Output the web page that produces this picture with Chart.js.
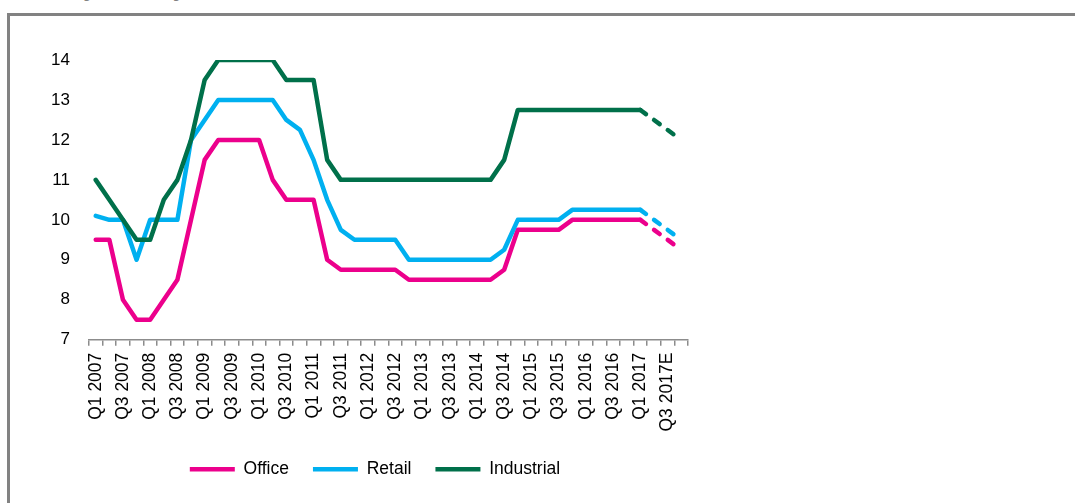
<!DOCTYPE html>
<html>
<head>
<meta charset="utf-8">
<script src="https://cdn.jsdelivr.net/npm/chart.js@4.4.1/dist/chart.umd.min.js"></script>
<style>
  html, body { margin: 0; padding: 0; background: #fff; overflow: hidden; }
  body { width: 1075px; height: 503px; position: relative; }
  #title { position: absolute; left: 10px; top: -26px; font: bold 24px "Liberation Sans", Arial, sans-serif; color: #808080; white-space: nowrap; }
  #frame { position: absolute; left: 7px; top: 13px; width: 1100px; height: 600px; border-left: 3px solid #828282; border-top: 3px solid #828282; }
  #chart { position: absolute; left: 10px; top: 16px; }
</style>
</head>
<body>
<div id="title">Prime yields by sector, %</div>
<div id="frame"></div>
<canvas id="chart" width="732" height="487"></canvas>
<script>
// Quarters on the x axis (from Q2 2017 on the values are estimates)
const quarters = [
  'Q1 2007', 'Q2 2007', 'Q3 2007', 'Q4 2007',
  'Q1 2008', 'Q2 2008', 'Q3 2008', 'Q4 2008',
  'Q1 2009', 'Q2 2009', 'Q3 2009', 'Q4 2009',
  'Q1 2010', 'Q2 2010', 'Q3 2010', 'Q4 2010',
  'Q1 2011', 'Q2 2011', 'Q3 2011', 'Q4 2011',
  'Q1 2012', 'Q2 2012', 'Q3 2012', 'Q4 2012',
  'Q1 2013', 'Q2 2013', 'Q3 2013', 'Q4 2013',
  'Q1 2014', 'Q2 2014', 'Q3 2014', 'Q4 2014',
  'Q1 2015', 'Q2 2015', 'Q3 2015', 'Q4 2015',
  'Q1 2016', 'Q2 2016', 'Q3 2016', 'Q4 2016',
  'Q1 2017', 'Q2 2017E', 'Q3 2017E', 'Q4 2017E'
];

// Series values (%)
const office = [
  9.5, 9.5, 8, 7.5, 7.5, 8, 8.5, 10, 11.5, 12,
  12, 12, 12, 11, 10.5, 10.5, 10.5, 9, 8.75, 8.75,
  8.75, 8.75, 8.75, 8.5, 8.5, 8.5, 8.5, 8.5, 8.5, 8.5,
  8.75, 9.75, 9.75, 9.75, 9.75, 10, 10, 10, 10, 10,
  10, 9.75, 9.5, 9.25
];
const retail = [
  10.1, 10, 10, 9, 10, 10, 10, 12, 12.5, 13,
  13, 13, 13, 13, 12.5, 12.25, 11.5, 10.5, 9.75, 9.5,
  9.5, 9.5, 9.5, 9, 9, 9, 9, 9, 9, 9,
  9.25, 10, 10, 10, 10, 10.25, 10.25, 10.25, 10.25, 10.25,
  10.25, 10, 9.75, 9.5
];
const industrial = [
  11, 10.5, 10, 9.5, 9.5, 10.5, 11, 12, 13.5, 14,
  14, 14, 14, 14, 13.5, 13.5, 13.5, 11.5, 11, 11,
  11, 11, 11, 11, 11, 11, 11, 11, 11, 11,
  11.5, 12.75, 12.75, 12.75, 12.75, 12.75, 12.75, 12.75, 12.75, 12.75,
  12.75, 12.5, 12.25, 12
];

// Y axis ticks
const yTicks = [7, 8, 9, 10, 11, 12, 13, 14];

// index where the forecast (dashed) part starts
const forecastFrom = 40;

Chart.defaults.font.family = '"Liberation Sans", Arial, sans-serif';
Chart.defaults.color = '#000';

function makeSeries(label, data, color, order) {
  return {
    label,
    data,
    borderColor: color,
    backgroundColor: color,
    borderWidth: 4.5,
    borderCapStyle: 'round',
    borderJoinStyle: 'round',
    pointRadius: 0,
    tension: 0,
    order,
    segment: {
      borderDash: ctx => ctx.p0DataIndex >= forecastFrom ? [7, 10] : undefined
    }
  };
}

// nudge the legend a bit to the right, like in the original
const legendShift = {
  id: 'legendShift',
  afterLayout(chart) {
    chart.legend.left += 15;
    chart.legend.right += 15;
  }
};

new Chart(document.getElementById('chart'), {
  type: 'line',
  data: {
    labels: quarters,
    datasets: [
      makeSeries('Office', office, '#EC008C', 2),
      makeSeries('Retail', retail, '#00B0F0', 1),
      makeSeries('Industrial', industrial, '#00704A', 0)
    ]
  },
  plugins: [legendShift],
  options: {
    responsive: false,
    animation: false,
    layout: { padding: { left: 22, right: 54, top: 44, bottom: 15 } },
    plugins: {
      legend: {
        position: 'bottom',
        labels: {
          usePointStyle: true,
          pointStyle: 'line',
          pointStyleWidth: 45,
          padding: 24,
          color: '#000',
          font: { size: 17.5 },
          sort: (a, b) => a.datasetIndex - b.datasetIndex
        }
      },
      tooltip: { enabled: false }
    },
    scales: {
      x: {
        offset: true,
        grid: { offset: true, drawOnChartArea: false, tickLength: 6, color: '#8c8c8c', lineWidth: 1.5 },
        border: { color: '#8c8c8c', width: 1.5 },
        ticks: {
          autoSkip: false,
          minRotation: 90,
          maxRotation: 90,
          padding: 7,
          color: '#000',
          font: { size: 17.5 },
          callback: function (v, i) { return i % 2 === 0 ? this.getLabelForValue(v) : ''; }
        },
        afterFit: s => { s.height -= 2; }
      },
      y: {
        min: yTicks[0],
        max: yTicks[yTicks.length - 1],
        grid: { display: false, drawTicks: false },
        border: { display: false },
        ticks: { stepSize: 1, padding: 19, color: '#000', font: { size: 17 } }
      }
    }
  }
});
</script>
</body>
</html>
